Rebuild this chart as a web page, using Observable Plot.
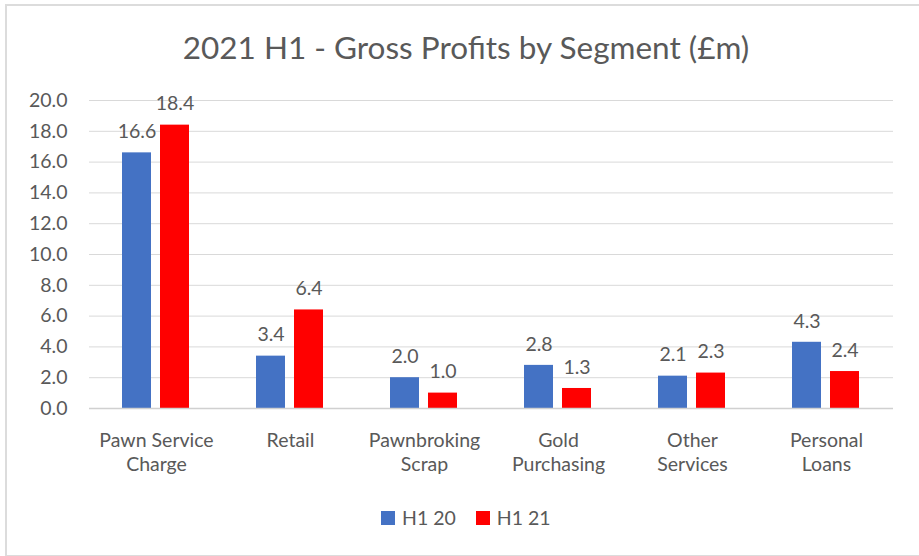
<!DOCTYPE html>
<html>
<head>
<meta charset="utf-8">
<script src="https://cdn.jsdelivr.net/npm/d3@7"></script>
<script src="https://cdn.jsdelivr.net/npm/@observablehq/plot@0.6"></script>
<style>
  html, body { margin: 0; padding: 0; background: #fff; }
  body { width: 919px; height: 556px; position: relative; overflow: hidden; font-family: Lato, "Open Sans", sans-serif; }
  #frame { position: absolute; left: 5px; top: 4px; width: 930px; height: 549px; border-left: 2px solid #dcdcdc; border-top: 2px solid #dcdcdc; border-bottom: 2px solid #dcdcdc; }
  #title { position: absolute; left: 0; width: 932px; top: 28px; text-align: center; font-size: 31.5px; color: #595959; }
  #chart { position: absolute; left: 0; top: 70px; }
  #legend { position: absolute; left: 381px; top: 506px; display: flex; align-items: center; font-size: 19.5px; color: #595959; }
  .item { display: flex; align-items: center; margin-right: 20px; }
  .sw { width: 14px; height: 14px; margin-right: 7px; }
</style>
</head>
<body>
<div id="frame"></div>
<div id="title">2021 H1 - Gross Profits by Segment (£m)</div>
<div id="chart"></div>
<div id="legend"></div>
<script>
const categories = ["Pawn Service\nCharge", "Retail", "Pawnbroking\nScrap", "Gold\nPurchasing", "Other\nServices", "Personal\nLoans"];
const seriesNames = ["H1 20", "H1 21"];
const valuesH120 = [16.6, 3.4, 2.0, 2.8, 2.1, 4.3];
const valuesH121 = [18.4, 6.4, 1.0, 1.3, 2.3, 2.4];
const yTicks = [0, 2, 4, 6, 8, 10, 12, 14, 16, 18, 20];
const seriesColors = ["#4472C4", "#FF0000"];

const data = [];
categories.forEach((c, i) => {
  data.push({cat: c, series: seriesNames[0], value: valuesH120[i]});
  data.push({cat: c, series: seriesNames[1], value: valuesH121[i]});
});

const chart = Plot.plot({
  width: 919,
  height: 420,
  marginLeft: 87,
  marginRight: 24,
  marginTop: 30,
  marginBottom: 82,
  style: {fontFamily: "Lato, 'Open Sans', sans-serif", fontSize: "19.5px", color: "#595959", background: "transparent"},
  fx: {domain: categories, padding: 0, label: null, axis: null},
  x: {domain: seriesNames, paddingInner: 0.23, paddingOuter: 0.843, axis: null},
  y: {domain: [0, 20], label: null},
  color: {domain: seriesNames, range: seriesColors},
  marks: [
    Plot.gridY(yTicks, {stroke: "#d9d9d9", strokeOpacity: 1}),
    Plot.axisY(yTicks, {tickFormat: d => d.toFixed(1), tickSize: 0, tickPadding: 22, label: null, fill: "#595959"}),
    Plot.axisFx({anchor: "bottom", tickSize: 0, tickPadding: 22, lineHeight: 1.2, label: null, fill: "#595959"}),
    Plot.barY(data, {fx: "cat", x: "series", y: "value", fill: "series"}),
    Plot.ruleY([0], {stroke: "#d0d0d0", strokeWidth: 1.5}),
    Plot.text(data, {fx: "cat", x: "series", y: "value", text: d => d.value.toFixed(1), dy: -21, fill: "#595959"})
  ]
});
document.getElementById("chart").appendChild(chart);

const legend = document.getElementById("legend");
seriesNames.forEach((s, i) => {
  const item = document.createElement("div");
  item.className = "item";
  const sw = document.createElement("div");
  sw.className = "sw";
  sw.style.background = seriesColors[i];
  const t = document.createElement("span");
  t.textContent = s;
  item.appendChild(sw);
  item.appendChild(t);
  legend.appendChild(item);
});
</script>
</body>
</html>
